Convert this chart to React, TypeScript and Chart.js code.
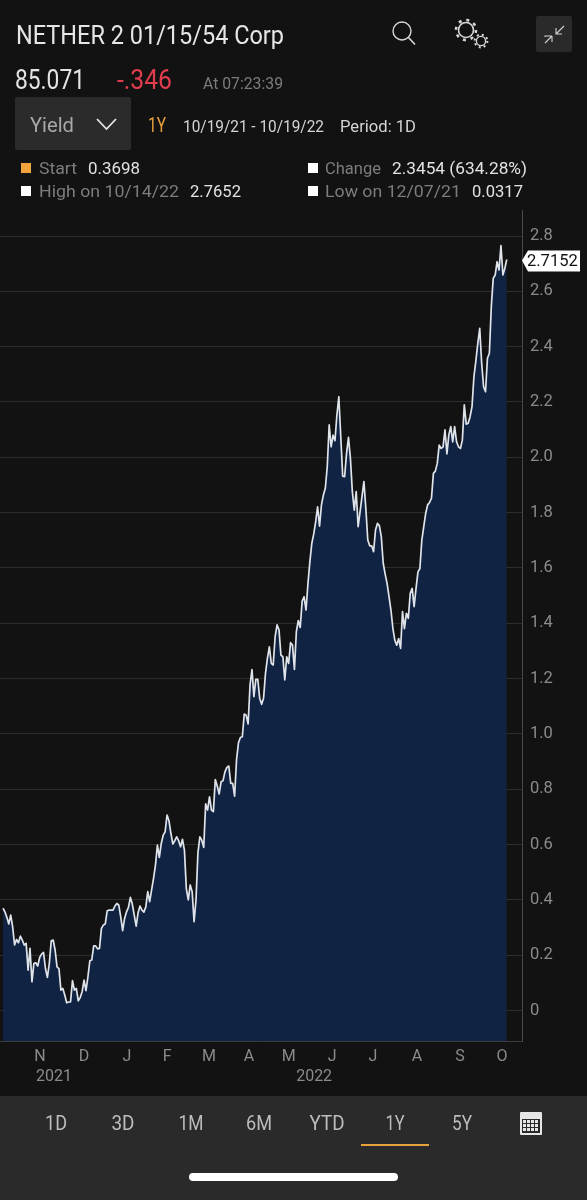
import React, { useEffect, useRef } from "react";
import { Chart, registerables } from "chart.js";

Chart.register(...registerables);

const yieldValues = [
  0.3698, 0.357, 0.337, 0.313, 0.345, 0.303, 0.237, 0.257, 0.245, 0.269,
  0.255, 0.237, 0.243, 0.146, 0.225, 0.104, 0.17, 0.173, 0.161, 0.192,
  0.204, 0.21, 0.152, 0.12, 0.17, 0.252, 0.255, 0.219, 0.158, 0.152,
  0.074, 0.08, 0.056, 0.028, 0.031, 0.0317, 0.108, 0.074, 0.08, 0.035,
  0.047, 0.068, 0.11, 0.072, 0.122, 0.18, 0.183, 0.234, 0.234, 0.223,
  0.225, 0.297, 0.309, 0.313, 0.361, 0.363, 0.363, 0.363, 0.378, 0.387,
  0.381, 0.339, 0.289, 0.333, 0.357, 0.373, 0.409, 0.385, 0.345, 0.305,
  0.354, 0.378, 0.363, 0.356, 0.375, 0.43, 0.394, 0.436, 0.478, 0.526,
  0.598, 0.554, 0.604, 0.634, 0.646, 0.707, 0.686, 0.64, 0.602, 0.614,
  0.628, 0.614, 0.592, 0.619, 0.58, 0.44, 0.4, 0.454, 0.43, 0.321,
  0.4, 0.57, 0.628, 0.616, 0.59, 0.747, 0.725, 0.773, 0.725, 0.719,
  0.835, 0.812, 0.783, 0.827, 0.831, 0.863, 0.879, 0.884, 0.821, 0.821,
  0.775, 0.906, 0.968, 0.987, 0.99, 1.072, 1.068, 1.036, 1.177, 1.233,
  1.135, 1.197, 1.197, 1.129, 1.107, 1.129, 1.219, 1.273, 1.315, 1.255,
  1.249, 1.352, 1.394, 1.376, 1.285, 1.279, 1.195, 1.279, 1.255, 1.33,
  1.321, 1.233, 1.37, 1.41, 1.385, 1.48, 1.496, 1.448, 1.544, 1.623,
  1.689, 1.723, 1.767, 1.821, 1.751, 1.828, 1.864, 1.888, 1.966, 2.117,
  2.038, 2.08, 2.06, 2.153, 2.219, 2.075, 1.932, 1.93, 2.014, 2.072,
  1.996, 1.876, 1.809, 1.876, 1.749, 1.803, 1.858, 1.912, 1.815, 1.701,
  1.68, 1.68, 1.659, 1.737, 1.761, 1.753, 1.713, 1.617, 1.578, 1.544,
  1.496, 1.448, 1.382, 1.339, 1.321, 1.345, 1.309, 1.442, 1.381, 1.436,
  1.418, 1.508, 1.526, 1.46, 1.526, 1.586, 1.598, 1.701, 1.749, 1.797,
  1.828, 1.837, 1.852, 1.942, 1.95, 1.978, 2.044, 2.032, 2.038, 2.099,
  2.012, 2.081, 2.111, 2.056, 2.111, 2.056, 2.038, 2.032, 2.062, 2.19,
  2.12, 2.123, 2.147, 2.183, 2.292, 2.349, 2.412, 2.466, 2.34, 2.255,
  2.237, 2.358, 2.376, 2.545, 2.647, 2.659, 2.707, 2.677, 2.7652, 2.659,
  2.683, 2.7152,
];
const yTicks = [0, 0.2, 0.4, 0.6, 0.8, 1.0, 1.2, 1.4, 1.6, 1.8, 2.0, 2.2, 2.4, 2.6, 2.8];
const monthLabels = ["N", "D", "J", "F", "M", "A", "M", "J", "J", "A", "S", "O"];
const monthIndex = [19.2, 42, 64.2, 85, 106.7, 127.5, 148, 170.5, 191.7, 214.5, 236.8, 258.5];
const yearLabels = ["2021", "2022"];
const yearIndex = [26.4, 161.2];
const rangeButtons = ["1D", "3D", "1M", "6M", "YTD", "1Y", "5Y"];
const rangeCenters = [56, 123, 191, 259, 327, 395, 462];
const rangeWidths = [22, 23, 25, 26, 35, 19, 20];

const AXIS_FONT = "Roboto, sans-serif";
const GREY = "#8b8b8b";

const lastValueTag = {
  id: "lastValueTag",
  afterDraw(chart: any) {
    const y = chart.scales.y.getPixelForValue(yieldValues[yieldValues.length - 1]);
    const left = chart.chartArea.right;
    const c = chart.ctx;
    c.save();
    c.fillStyle = "#ffffff";
    c.beginPath();
    c.moveTo(left, y + 1);
    c.lineTo(left + 6, y - 9);
    c.lineTo(left + 58, y - 9);
    c.lineTo(left + 58, y + 12);
    c.lineTo(left + 6, y + 12);
    c.closePath();
    c.fill();
    c.fillStyle = "#111111";
    c.font = `16.5px ${AXIS_FONT}`;
    c.textBaseline = "middle";
    c.textAlign = "left";
    c.fillText(yieldValues[yieldValues.length - 1].toFixed(4), left + 5, y + 2);
    c.restore();
  },
};

function T(p: { x: number; y: number; w?: number; s: number; c: string; t: string; a?: any; fw?: number }) {
  return (
    <text
      x={p.x}
      y={p.y}
      fontFamily="Roboto, sans-serif"
      fontSize={p.s}
      fontWeight={p.fw ?? 400}
      fill={p.c}
      textAnchor={p.a ?? "start"}
      textLength={p.w}
      lengthAdjust={p.w ? "spacingAndGlyphs" : undefined}
    >
      {p.t}
    </text>
  );
}

function Overlay() {
  return (
    <svg width={587} height={1200} style={{ position: "absolute", left: 0, top: 0, pointerEvents: "none" }}>
      <T x={16} y={43.5} w={268} s={25} c="#e6e6e6" t="NETHER 2 01/15/54 Corp" />
      {/* search */}
      <circle cx={402} cy={31} r={9} fill="none" stroke="#d8d8d8" strokeWidth={1.4} />
      <line x1={408.5} y1={37.5} x2={415} y2={44.5} stroke="#d8d8d8" strokeWidth={1.6} />
      {/* gears */}
      <circle cx={466} cy={30} r={7.5} fill="none" stroke="#d8d8d8" strokeWidth={1.6} />
      <circle cx={466} cy={30} r={10} fill="none" stroke="#d8d8d8" strokeWidth={2.6} strokeDasharray="3 4.85" />
      <circle cx={481} cy={41} r={4.6} fill="none" stroke="#d8d8d8" strokeWidth={1.4} />
      <circle cx={481} cy={41} r={6.4} fill="none" stroke="#d8d8d8" strokeWidth={2} strokeDasharray="2 3.03" />
      {/* collapse */}
      <rect x={536} y={16} width={36} height={36} rx={2} fill="#2a2a2a" />
      <path d="M564 26 L556 34 M556 28 V34 H562 M545 43 L552 36 M545 37 V36 H552 M552 36 V42" fill="none" stroke="#d0d0d0" strokeWidth={1.1} />

      <T x={15} y={89} w={70} s={27} c="#e4e4e4" t="85.071" />
      <T x={117} y={89} w={55} s={27} c="#e23d4f" t="-.346" />
      <T x={203} y={88.5} w={80} s={17} c="#7c7c7c" t="At 07:23:39" />

      <rect x={15} y={97} width={116} height={53} rx={2} fill="#2b2b2b" />
      <T x={30} y={131.5} w={44} s={21} c="#a8a8a8" t="Yield" />
      <path d="M97 119 L106.5 129 L116 119" fill="none" stroke="#e4e4e4" strokeWidth={1.8} />
      <T x={148} y={132} w={18} s={20} c="#e8a13d" t="1Y" />
      <T x={183} y={131.5} w={141} s={17} c="#d4d4d4" t="10/19/21 - 10/19/22" />
      <T x={340} y={131.5} w={76} s={17} c="#d4d4d4" t="Period: 1D" />

      <rect x={21} y={163} width={10} height={10} fill="#f2a33c" />
      <T x={39} y={174} w={38} s={17} c="#7d7d7d" t="Start" />
      <T x={88} y={174} w={52} s={17} c="#e2e2e2" t="0.3698" />
      <rect x={21} y={186} width={10} height={10} fill="#ffffff" />
      <T x={39} y={197} w={140} s={17} c="#7d7d7d" t="High on 10/14/22" />
      <T x={190} y={197} w={51} s={17} c="#e2e2e2" t="2.7652" />
      <rect x={308} y={163} width={10} height={10} fill="#ffffff" />
      <T x={325} y={174} w={56} s={17} c="#7d7d7d" t="Change" />
      <T x={392} y={174} w={135} s={17} c="#e2e2e2" t="2.3454 (634.28%)" />
      <rect x={308} y={186} width={10} height={10} fill="#ffffff" />
      <T x={325} y={197} w={136} s={17} c="#7d7d7d" t="Low on 12/07/21" />
      <T x={472} y={197} w={51} s={17} c="#e2e2e2" t="0.0317" />

      {/* footer */}
      <rect x={0} y={1096} width={587} height={104} fill="#2a2a2a" />
      {rangeButtons.map((b, i) => (
        <T key={b} x={rangeCenters[i] - rangeWidths[i] / 2} y={1130} w={rangeWidths[i]} s={21} c="#bdbdbd" t={b} />
      ))}
      <rect x={361} y={1144} width={68} height={2} fill="#e8a13d" />
      <rect x={520} y={1112} width={22} height={23} rx={1} fill="#e6e6e6" />
      <rect x={522} y={1119} width={18} height={14} fill="#2a2a2a" />
      {[0, 1, 2, 3].flatMap((cx) =>
        [0, 1, 2].map((cy) => (
          <rect key={`${cx}-${cy}`} x={523 + cx * 4} y={1120 + cy * 4} width={3} height={3} fill="#e6e6e6" />
        ))
      )}
      <rect x={189} y={1173} width={209} height={8} rx={4} fill="#ffffff" />
    </svg>
  );
}

export default function App() {
  const ref = useRef<HTMLCanvasElement | null>(null);

  useEffect(() => {
    document.body.style.margin = "0";
    document.body.style.background = "#121212";
    const chart = new Chart(ref.current as HTMLCanvasElement, {
      type: "line",
      data: {
        datasets: [
          {
            data: yieldValues.map((y, x) => ({ x, y })),
            xAxisID: "x",
            yAxisID: "y",
            borderColor: "#dfe3ea",
            borderWidth: 1.7,
            borderJoinStyle: "round",
            backgroundColor: "rgba(17,36,70,0.94)",
            fill: "start",
            pointRadius: 0,
            tension: 0,
          },
        ],
      },
      options: {
        animation: false,
        responsive: false,
        layout: { padding: { top: 5, left: 0, right: 0, bottom: 0 } },
        plugins: { legend: { display: false }, tooltip: { enabled: false } },
        scales: {
          x: {
            type: "linear",
            position: "bottom",
            min: -1.55,
            max: 268.9,
            grid: { display: false, drawTicks: false },
            border: { color: "#3c3c3c", width: 1 },
            afterBuildTicks: (s: any) => {
              s.ticks = monthIndex.map((value) => ({ value }));
            },
            afterFit: (s: any) => {
              s.height = 25;
              s.paddingLeft = 0;
              s.paddingRight = 0;
            },
            ticks: {
              autoSkip: false,
              maxRotation: 0,
              padding: 6,
              color: GREY,
              font: { family: AXIS_FONT, size: 16 },
              callback: (_v: any, i: number) => monthLabels[i],
            },
          },
          x2: {
            type: "linear",
            position: "bottom",
            min: -1.55,
            max: 268.9,
            grid: { display: false, drawTicks: false },
            border: { display: false },
            afterBuildTicks: (s: any) => {
              s.ticks = yearIndex.map((value) => ({ value }));
            },
            afterFit: (s: any) => {
              s.height = 29;
              s.paddingLeft = 0;
              s.paddingRight = 0;
            },
            ticks: {
              autoSkip: false,
              maxRotation: 0,
              padding: 1,
              color: GREY,
              font: { family: AXIS_FONT, size: 16 },
              callback: (_v: any, i: number) => yearLabels[i],
            },
          },
          y: {
            type: "linear",
            position: "right",
            min: -0.11,
            max: 2.894,
            grid: { color: "#2c2c2c", lineWidth: 1, drawTicks: false },
            border: { color: "#4a4a4a", width: 1 },
            afterBuildTicks: (s: any) => {
              s.ticks = yTicks.map((value) => ({ value }));
            },
            afterFit: (s: any) => {
              s.width = 65;
              s.paddingTop = 0;
              s.paddingBottom = 0;
            },
            ticks: {
              padding: 8,
              color: GREY,
              font: { family: AXIS_FONT, size: 16.5 },
              callback: (v: any) => Number(v).toFixed(Number(v) === 0 ? 0 : 1),
            },
          },
        },
      },
      plugins: [lastValueTag],
    } as any);
    return () => chart.destroy();
  }, []);

  return (
    <div style={{ position: "absolute", left: 0, top: 0, width: 587, height: 1200, background: "#121212", overflow: "hidden" }}>
      <canvas ref={ref} width={587} height={890} style={{ position: "absolute", left: 0, top: 205, width: 587, height: 890 }} />
      <Overlay />
    </div>
  );
}
